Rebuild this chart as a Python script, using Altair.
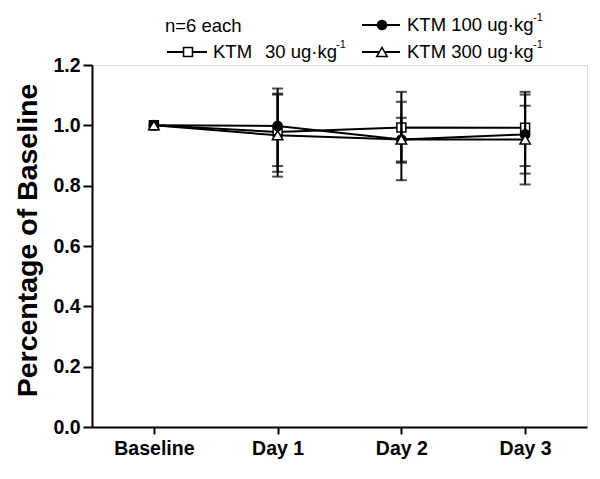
import altair as alt
import pandas as pd

# ---- data ----
days = ["Baseline", "Day 1", "Day 2", "Day 3"]
series_names = ["KTM 30", "KTM 100", "KTM 300"]
mean_30 = [1.000, 0.978, 0.993, 0.992]
mean_100 = [1.000, 0.998, 0.953, 0.970]
mean_300 = [1.000, 0.967, 0.953, 0.953]
low_30 = [None, 0.846, 0.876, 0.865]
high_30 = [None, 1.102, 1.111, 1.111]
low_100 = [None, 0.865, 0.818, 0.804]
high_100 = [None, 1.122, 1.078, 1.102]
low_300 = [None, 0.830, 0.880, 0.840]
high_300 = [None, 1.105, 1.025, 1.065]

y_ticks = [0.0, 0.1, 0.2, 0.3, 0.4, 0.5, 0.6, 0.7, 0.8, 0.9, 1.0, 1.1, 1.2]
legend_note = "n=6 each"
legend_unit = "ug·kg"
legend_sup = "-1"

FONT = "Liberation Sans"

rows = []
for name, m, lo, hi in zip(series_names,
                           [mean_30, mean_100, mean_300],
                           [low_30, low_100, low_300],
                           [high_30, high_100, high_300]):
    for d, mv, l, h in zip(days, m, lo, hi):
        rows.append({"series": name, "day": d, "mean": mv, "lo": l, "hi": h})
df = pd.DataFrame(rows)

x_enc = alt.X(
    "day:N",
    sort=days,
    scale=alt.Scale(type="point", padding=0.5, domain=days),
    axis=alt.Axis(
        title=None, labelAngle=0, labelFont=FONT, labelFontSize=19.5,
        labelFontWeight="bold", labelColor="black", labelPadding=5,
        tickColor="black", tickSize=7, tickWidth=2,
        domainColor="black", domainWidth=2, grid=False,
    ),
)
y_scale = alt.Scale(domain=[0, 1.2], nice=False, zero=True)
y_enc = alt.Y(
    "mean:Q",
    scale=y_scale,
    axis=alt.Axis(
        title="Percentage of Baseline", titleFont=FONT, titleFontSize=28.5,
        titleFontWeight="bold", titleColor="black",
        titleX=-50, titleY=175, titleAngle=-90, titleAlign="center",
        titleBaseline="bottom",
        values=y_ticks,
        labelExpr="round(datum.value*10) % 2 == 0 ? format(datum.value, '.1f') : ''",
        labelFont=FONT, labelFontSize=19.5, labelFontWeight="bold",
        labelColor="black", labelPadding=3,
        tickColor="black", tickWidth=2,
        tickSize={"condition": {"test": "round(datum.value*10) % 2 == 1", "value": 5},
                  "value": 9},
        domainColor="black", domainWidth=2, grid=False,
    ),
)

styles = {
    "KTM 30": dict(shape="square", fill="white", size=80),
    "KTM 100": dict(shape="circle", fill="black", size=85),
    "KTM 300": dict(shape="triangle-up", fill="white", size=110),
}

layers = []
for name in series_names:
    base = alt.Chart(df).transform_filter(alt.datum.series == name)
    line = base.mark_line(color="black", strokeWidth=2).encode(x=x_enc, y=y_enc)
    err = base.transform_filter("isValid(datum.lo)").mark_rule(
        color="black", strokeWidth=2
    ).encode(x=x_enc, y=alt.Y("lo:Q", scale=y_scale), y2="hi:Q")
    cap_lo = base.transform_filter("isValid(datum.lo)").mark_tick(
        color="black", thickness=2, size=11, orient="horizontal"
    ).encode(x=x_enc, y=alt.Y("lo:Q", scale=y_scale))
    cap_hi = base.transform_filter("isValid(datum.hi)").mark_tick(
        color="black", thickness=2, size=11, orient="horizontal"
    ).encode(x=x_enc, y=alt.Y("hi:Q", scale=y_scale))
    st = styles[name]
    pts = base.mark_point(
        shape=st["shape"], filled=True, fill=st["fill"], stroke="black",
        strokeWidth=1.5, size=st["size"], opacity=1,
    ).encode(x=x_enc, y=y_enc)
    layers += [err, cap_lo, cap_hi, line, pts]

# ---- manual legend (above the plot area) ----
one = pd.DataFrame({"t": [legend_note]})
LFS = 18.5


def ltext(text, x, y, size=LFS):
    return alt.Chart(pd.DataFrame({"t": [text]})).mark_text(
        font=FONT, fontSize=size, color="black", align="left", baseline="middle"
    ).encode(x=alt.value(x), y=alt.value(y), text="t:N")


def lline(x1, x2, y):
    return alt.Chart(one).mark_rule(color="black", strokeWidth=2).encode(
        x=alt.value(x1), x2=alt.value(x2), y=alt.value(y))


def lpoint(name, x, y):
    st = styles[name]
    return alt.Chart(one).mark_point(
        shape=st["shape"], filled=True, fill=st["fill"], stroke="black",
        strokeWidth=1.5, size=st["size"], opacity=1,
    ).encode(x=alt.value(x), y=alt.value(y))


legend = [
    ltext(legend_note, 73, -39),
    # KTM 30
    lline(75, 115, -13), lpoint("KTM 30", 96, -13),
    ltext("KTM", 121, -13), ltext("30 " + legend_unit, 173, -13),
    ltext(legend_sup, 244, -20, 11),
    # KTM 100
    lline(270, 308, -40), lpoint("KTM 100", 290, -40),
    ltext("KTM 100 " + legend_unit, 315, -40), ltext(legend_sup, 441, -47, 11),
    # KTM 300
    lline(270, 308, -13), lpoint("KTM 300", 290, -13),
    ltext("KTM 300 " + legend_unit, 315, -13), ltext(legend_sup, 441, -20, 11),
]

chart = alt.layer(*layers, *legend).properties(
    width=495, height=362,
    autosize=alt.AutoSizeParams(type="none"),
    padding={"left": 84, "top": 57, "right": 5, "bottom": 44},
).configure_view(stroke=None).configure(background="white")

chart.save("out.html", embed_options={"renderer": "svg", "actions": False})
